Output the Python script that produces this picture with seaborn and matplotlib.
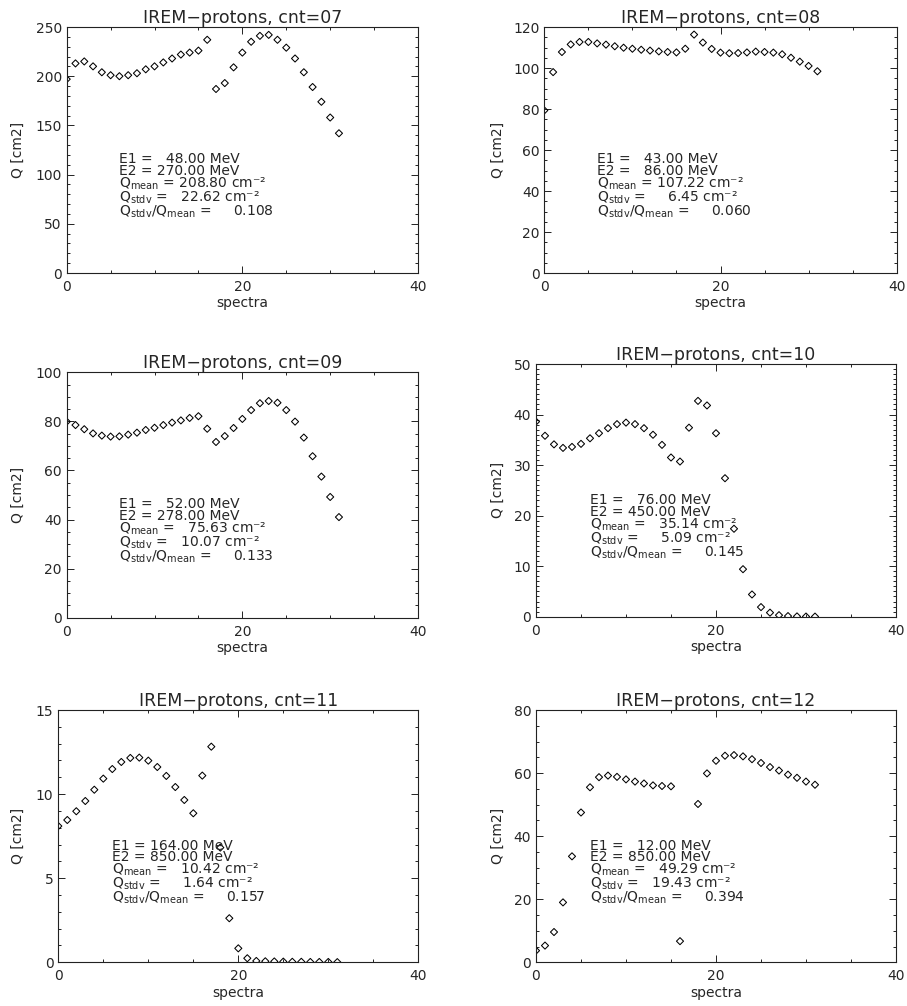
import matplotlib
matplotlib.use('Agg')
import matplotlib.pyplot as plt
from matplotlib.ticker import MultipleLocator
import seaborn as sns
import pandas as pd
import numpy as np

# spectrum index (x axis)
spectra = list(range(32))

# Q [cm2] per spectrum
q07 = [197, 213, 215, 210, 204, 201, 200, 201, 203, 207, 210, 214, 218, 222, 224, 226,
       237, 187, 193, 209, 224, 235, 241, 242, 237, 229, 218, 204, 189, 174, 158, 142]
q08 = [79.3, 98.0, 107.8, 111.5, 112.7, 112.7, 112.0, 111.4, 110.6, 109.9, 109.4, 108.9,
       108.5, 108.1, 107.8, 107.6, 109.4, 116.3, 112.4, 109.3, 107.5, 107.2, 107.3, 107.6,
       108.0, 107.8, 107.5, 106.7, 105.0, 103.1, 101.0, 98.4]
q09 = [79.9, 78.5, 76.8, 75.1, 74.2, 73.8, 73.9, 74.6, 75.4, 76.5, 77.4, 78.5, 79.5, 80.4,
       81.4, 82.1, 77.0, 71.6, 74.0, 77.3, 81.0, 84.6, 87.4, 88.3, 87.6, 84.6, 79.9, 73.4,
       65.8, 57.5, 49.2, 41.0]
q10 = [38.6, 35.8, 34.1, 33.4, 33.6, 34.2, 35.3, 36.3, 37.3, 38.1, 38.4, 38.1, 37.3, 36.0,
       34.0, 31.5, 30.7, 37.4, 42.7, 41.8, 36.3, 27.4, 17.4, 9.4, 4.4, 1.9, 0.8, 0.3,
       0.12, 0.06, 0.03, 0.02]
q11 = [8.10, 8.46, 8.98, 9.59, 10.26, 10.92, 11.49, 11.91, 12.15, 12.17, 11.99, 11.61,
       11.08, 10.42, 9.65, 8.86, 11.10, 12.82, 6.82, 2.62, 0.83, 0.24, 0.08, 0.06, 0.05,
       0.04, 0.03, 0.03, 0.02, 0.02, 0.02, 0.01]
q12 = [3.7, 5.3, 9.6, 19.0, 33.6, 47.5, 55.5, 58.7, 59.2, 58.8, 58.0, 57.3, 56.7, 56.1,
       55.9, 55.8, 6.7, np.nan, 50.2, 59.9, 63.9, 65.5, 65.7, 65.3, 64.4, 63.2, 61.9, 60.8,
       59.5, 58.5, 57.3, 56.3]

counters = ['07', '08', '09', '10', '11', '12']
series = [q07, q08, q09, q10, q11, q12]
e1_vals = [48.0, 43.0, 52.0, 76.0, 164.0, 12.0]
e2_vals = [270.0, 86.0, 278.0, 450.0, 850.0, 850.0]
qmean_vals = [208.80, 107.22, 75.63, 35.14, 10.42, 49.29]
qstdv_vals = [22.62, 6.45, 10.07, 5.09, 1.64, 19.43]
ratio_vals = [0.108, 0.060, 0.133, 0.145, 0.157, 0.394]
ymax_vals = [250, 120, 100, 50, 15, 80]
ymajor_vals = [50, 20, 20, 10, 5, 20]
yminor_vals = [10, 5, 5, 1, 1, 5]

# axes boxes in pixels: left, right, top, bottom (figure is 907 x 1006)
W, H = 907, 1006
boxes = [(66.7, 418, 27, 273), (544.3, 896.7, 27, 273),
         (66.7, 418, 372.3, 617.7), (536, 896, 364, 616.7),
         (58.3, 418.3, 710, 962.3), (536, 896, 710, 962.3)]
ylabel_px = [17, 497, 17, 497, 17, 497]

sns.set_style('ticks')
plt.rcParams['font.family'] = ['DejaVu Sans']
plt.rcParams['mathtext.fontset'] = 'dejavusans'

FS = '\u2007'  # figure space keeps the numbers aligned


def num(v, w, d):
    return f'{v:{w}.{d}f}'.replace(' ', FS)


fig = plt.figure(figsize=(W / 100, H / 100), dpi=100)

for i, cnt in enumerate(counters):
    left, right, top, bottom = boxes[i]
    ax = fig.add_axes([left / W, 1 - bottom / H, (right - left) / W, (bottom - top) / H])
    df = pd.DataFrame({'spectra': spectra, 'Q': series[i]})
    sns.scatterplot(data=df, x='spectra', y='Q', ax=ax, marker='D', s=13,
                    fc='none', ec='black', linewidth=0.75, legend=False)

    ax.set_xlim(0, 40)
    ax.set_ylim(0, ymax_vals[i])
    ax.xaxis.set_major_locator(MultipleLocator(20))
    ax.xaxis.set_minor_locator(MultipleLocator(5))
    ax.yaxis.set_major_locator(MultipleLocator(ymajor_vals[i]))
    ax.yaxis.set_minor_locator(MultipleLocator(yminor_vals[i]))
    ax.tick_params(which='both', direction='in', top=True, right=True,
                   width=0.7, color='#222222', labelsize=10)
    ax.tick_params(which='major', length=5)
    ax.tick_params(which='minor', length=2.5)
    ax.tick_params(axis='x', pad=5)
    ax.tick_params(axis='y', pad=3.5)
    for sp in ax.spines.values():
        sp.set_linewidth(0.8)
        sp.set_color('#222222')

    ax.set_title(f'IREM\u2212protons, cnt={cnt}', fontsize=12.5, pad=1.5)
    ax.set_xlabel('spectra', fontsize=10)
    ax.set_ylabel('Q [cm2]', fontsize=10)
    ax.xaxis.set_label_coords(0.5, -0.093)
    ax.yaxis.set_label_coords((ylabel_px[i] + 8 - left) / (right - left), 0.5)

    # statistics block as one text object, lines packed tightly as in the IDL output
    lines = [
        f'E1 = {num(e1_vals[i], 6, 2)} MeV',
        f'E2 = {num(e2_vals[i], 6, 2)} MeV',
        r'$\mathregular{Q_{mean}}$ = ' + num(qmean_vals[i], 6, 2) + ' cm\u207b\u00b2',
        r'$\mathregular{Q_{stdv}}$ = ' + num(qstdv_vals[i], 6, 2) + ' cm\u207b\u00b2',
        r'$\mathregular{Q_{stdv}/Q_{mean}}$ = ' + num(ratio_vals[i], 7, 3),
    ]
    ax.text(0.15, 0.49, '\n'.join(lines), transform=ax.transAxes,
            fontsize=10, va='top', ha='left', linespacing=0.8)

fig.savefig('out.png', dpi=100)
